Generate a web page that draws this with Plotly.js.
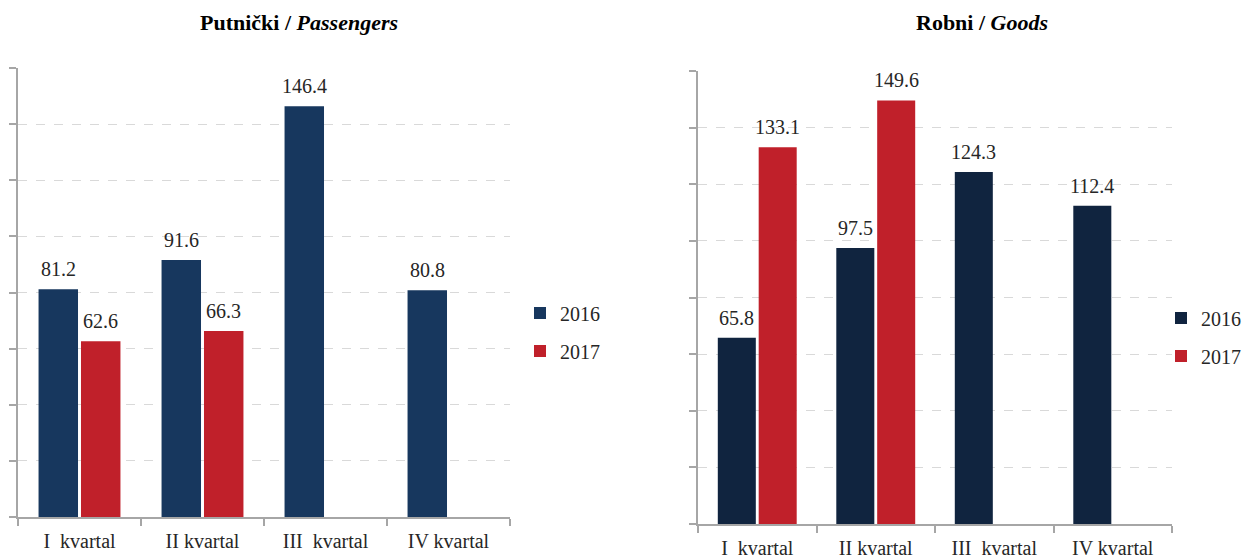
<!DOCTYPE html>
<html>
<head>
<meta charset="utf-8">
<script src="https://cdn.plot.ly/plotly-3.0.1.min.js"></script>
<style>html,body{margin:0;padding:0;background:#fff;}#chart{width:1247px;height:558px;}</style>
</head>
<body>
<div id="chart"></div>
<script>
// ---- data ----
const categories = ["I\u00a0 kvartal", "II kvartal", "III\u00a0 kvartal", "IV kvartal"];
const seriesNames = ["2016", "2017"];
const passengers2016 = [81.2, 91.6, 146.4, 80.8];
const passengers2017 = [62.6, 66.3, null, null];
const goods2016 = [65.8, 97.5, 124.3, 112.4];
const goods2017 = [133.1, 149.6, null, null];
const titleLeft = "<b>Putnički / <i>Passengers</i></b>";
const titleRight = "<b>Robni / <i>Goods</i></b>";

// ---- style ----
const FONT = "Liberation Serif";
const navyL = "#17375e";
const navyR = "#10243f";
const red = "#c0202a";
const axisGray = "#a6a6a6";
const gridGray = "#d9d9d9";

function bar(y, name, color, xa, ya, legend) {
  return {
    type: "bar", x: categories, y: y, name: name,
    marker: {color: color},
    xaxis: xa, yaxis: ya, legend: legend, legendgroup: legend + name,
    hoverinfo: "y+name"
  };
}

const data = [
  bar(passengers2016, seriesNames[0], navyL, "x", "y", "legend"),
  bar(passengers2017, seriesNames[1], red, "x", "y", "legend"),
  bar(goods2016, seriesNames[0], navyR, "x2", "y2", "legend2"),
  bar(goods2017, seriesNames[1], red, "x2", "y2", "legend2")
];

// value labels
const annotations = [];
function addLabels(vals, xref, yref, shift) {
  vals.forEach((v, i) => {
    if (v === null) return;
    annotations.push({
      x: categories[i], y: v, xref: xref, yref: yref,
      text: v.toFixed(1), showarrow: false, xanchor: "center", yanchor: "bottom",
      xshift: shift, yshift: 7,
      font: {family: FONT, size: 20, color: "#262626"}
    });
  });
}
addLabels(passengers2016, "x", "y", -21);
addLabels(passengers2017, "x", "y", 21);
addLabels(goods2016, "x2", "y2", -20.7);
addLabels(goods2017, "x2", "y2", 20.7);

annotations.push({text: titleLeft, xref: "paper", yref: "paper", x: 299/1247, y: 1 - 22/558,
  xanchor: "center", yanchor: "middle", showarrow: false, font: {family: FONT, size: 22, color: "#000"}});
annotations.push({text: titleRight, xref: "paper", yref: "paper", x: 982/1247, y: 1 - 22/558,
  xanchor: "center", yanchor: "middle", showarrow: false, font: {family: FONT, size: 22, color: "#000"}});

function xaxisDef(domain, anchor) {
  return {
    domain: domain, anchor: anchor, type: "category",
    showline: true, linecolor: axisGray, linewidth: 2,
    ticks: "outside", tickson: "boundaries", ticklen: 7, tickwidth: 2, tickcolor: axisGray,
    ticklabelstandoff: 5,
    showgrid: false, zeroline: false,
    tickfont: {family: FONT, size: 20, color: "#262626"},
    fixedrange: true
  };
}
function yaxisDef(domain, anchor) {
  return {
    domain: domain, anchor: anchor, range: [0, 160], dtick: 20, tick0: 0,
    showline: true, linecolor: axisGray, linewidth: 2,
    ticks: "outside", ticklen: 7, tickwidth: 2, tickcolor: axisGray,
    showticklabels: false,
    showgrid: true, gridcolor: gridGray, griddash: "dash", gridwidth: 1,
    zeroline: false, fixedrange: true
  };
}

const legendBase = {
  font: {family: FONT, size: 20, color: "#262626"},
  bgcolor: "rgba(0,0,0,0)", borderwidth: 0,
  traceorder: "grouped", tracegroupgap: 9,
  xanchor: "left", yanchor: "middle", itemclick: false, itemdoubleclick: false
};

const layout = {
  width: 1247, height: 558,
  margin: {l: 0, r: 0, t: 0, b: 0},
  paper_bgcolor: "#fff", plot_bgcolor: "#fff",
  barmode: "group", bargap: 0.31, bargroupgap: 0.07,
  showlegend: true,
  xaxis: xaxisDef([18/1247, 510/1247], "y"),
  yaxis: yaxisDef([1 - 517/558, 1 - 68/558], "x"),
  xaxis2: xaxisDef([698/1247, 1172/1247], "y2"),
  yaxis2: yaxisDef([1 - 524/558, 1 - 71/558], "x2"),
  legend: Object.assign({}, legendBase, {x: 520/1247, y: 1 - 332/558}),
  legend2: Object.assign({}, legendBase, {x: 1161/1247, y: 1 - 337/558}),
  annotations: annotations,
  font: {family: FONT}
};

Plotly.newPlot("chart", data, layout, {displayModeBar: false});
</script>
</body>
</html>
